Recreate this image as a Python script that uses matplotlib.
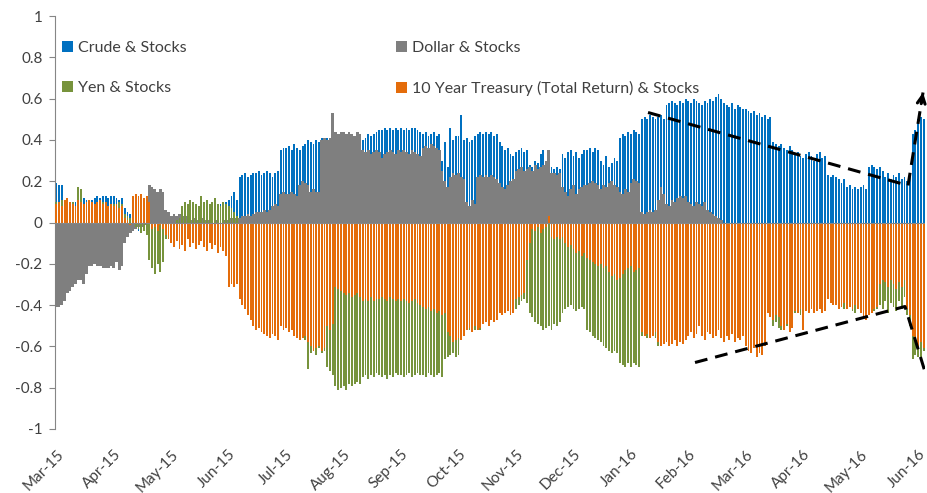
import numpy as np
import matplotlib
matplotlib.use('Agg')
import matplotlib.pyplot as plt
from matplotlib.patches import Patch

month_labels = ['Mar-15', 'Apr-15', 'May-15', 'Jun-15', 'Jul-15', 'Aug-15', 'Sep-15',
                'Oct-15', 'Nov-15', 'Dec-15', 'Jan-16', 'Feb-16', 'Mar-16', 'Apr-16',
                'May-16', 'Jun-16']
label_every = 21  # trading days between month labels

# correlation values in hundredths, one per trading day
crude = [
    19, 18, 18, 10, 11, 10, 9, 10, 11, 10, 12, 11, 10, 11, 12, 13, 12, 13, 13, 12, 13,
    13, 12, 11, 12, 7, 5, 4, 6, -2, -4, -3, -2, 1, -1, 2, 0, -2, 1, 0, 2, 1,
    -3, -5, -2, 0, 2, -4, 3, 4, 2, 6, 5, 8, 7, 9, 6, 8, 5, 7, 9, 10, 10,
    11, 13, 15, 11, 22, 23, 24, 22, 23, 24, 24, 25, 23, 24, 25, 24, 22, 24, 25, 35, 36,
    36, 37, 35, 38, 36, 35, 37, 38, 40, 39, 38, 40, 39, 41, 40, 41, 40, 42, 41, 40, 42,
    41, 42, 40, 41, 42, 40, 41, 40, 41, 43, 42, 43, 44, 45, 45, 46, 45, 46, 45, 46, 45,
    46, 45, 46, 45, 46, 46, 45, 44, 43, 44, 42, 43, 44, 42, 43, 30, 39, 27, 46, 40, 42,
    42, 52, 40, 41, 39, 40, 42, 43, 44, 43, 44, 43, 44, 42, 43, 39, 37, 35, 36, 33, 32,
    34, 35, 36, 34, 35, 28, 27, 30, 29, 33, 35, 27, 26, 27, 26, 27, 26, 33, 31, 34, 35,
    32, 34, 31, 33, 35, 35, 36, 34, 36, 35, 30, 28, 32, 27, 29, 31, 30, 41, 43, 42, 44,
    43, 45, 44, 43, 50, 51, 50, 52, 51, 50, 51, 52, 50, 57, 58, 59, 58, 57, 59, 58, 60,
    59, 58, 60, 59, 58, 57, 59, 58, 60, 59, 61, 62, 60, 58, 57, 56, 58, 55, 57, 56, 55,
    55, 54, 53, 54, 52, 53, 51, 52, 50, 51, 39, 38, 37, 38, 36, 35, 37, 35, 33, 34, 32,
    31, 33, 34, 32, 30, 33, 34, 31, 32, 23, 22, 23, 22, 21, 19, 21, 17, 18, 16, 17, 16,
    17, 18, 16, 27, 28, 27, 26, 27, 25, 22, 24, 21, 23, 22, 24, 21, 22, 20, 22, 43, 45,
    50, 51, 50,
]
dollar = [
    -41, -41, -40, -38, -34, -33, -31, -30, -28, -28, -30, -25, -21, -21, -20, -21, -21, -22, -22, -22, -21,
    -22, -19, -23, -21, -10, -7, -5, -4, -3, -2, -2, -1, -1, 18, 17, 16, 15, 16, 15, 6, 5,
    3, 4, 3, 4, 3, 4, 3, 1, 2, 1, 1, 2, 1, 1, 1, 0, 1, 1, 0, 1, 1,
    1, 2, 2, 1, 2, 3, 3, 4, 3, 4, 5, 5, 5, 6, 5, 6, 8, 9, 8, 14, 15,
    14, 14, 15, 14, 13, 18, 20, 19, 18, 15, 16, 15, 15, 40, 41, 40, 41, 53, 44, 43, 44,
    44, 43, 44, 43, 42, 44, 43, 35, 34, 35, 33, 34, 35, 34, 31, 33, 34, 35, 34, 33, 35,
    34, 35, 34, 33, 35, 34, 33, 32, 36, 37, 36, 38, 37, 36, 35, 25, 20, 17, 22, 24, 23,
    24, 22, 21, 10, 8, 11, 9, 22, 23, 22, 23, 22, 23, 22, 21, 19, 17, 16, 18, 20, 21,
    25, 26, 27, 25, 26, 27, 25, 28, 26, 27, 28, 30, 35, 24, 24, 23, 24, 17, 15, 13, 16,
    18, 14, 16, 17, 18, 18, 19, 20, 19, 18, 16, 18, 17, 19, 20, 18, 17, 15, 14, 16, 15,
    19, 21, 20, 19, 5, 4, 5, 6, 5, 6, 11, 17, 14, 9, 8, 11, 10, 12, 13, 12, 13,
    10, 9, 8, 10, 9, 8, 10, 6, 5, 4, 3, 2, 1, 0, 0, 0, 0, 0, 0, 0, 0,
    0, 0, 0, 0, 0, 0, 0, 0, 0, 0, 0, 0, 0, 0, 0, 0, 0, 0, 0, 0, 0,
    0, 0, 0, 0, 0, 0, 0, 0, 0, 0, 0, 0, 0, 0, 0, 0, 0, 0, 0, 0, 0,
    0, 0, 0, 0, 0, 0, 0, 0, 0, 0, 0, 0, 0, 0, 0, 0, 0, 0, 0, 0, 0,
    0, 0, 0,
]
yen = [
    10, 9, 11, 8, 10, 9, 10, 8, 17, 16, 9, 10, 11, 10, 9, 8, 9, 10, 9, 8, 9,
    9, 8, 10, 9, 4, 3, 2, 3, -2, -3, -5, -4, -6, -18, -22, -25, -20, -24, -19, -8, -4,
    -3, -2, 1, 2, 8, 10, 9, 11, 10, 9, 8, 13, 10, 11, 9, 10, 12, 9, 8, 10, 9,
    8, 7, 5, 3, -15, -20, -22, -25, -28, -30, -33, -35, -32, -34, -36, -38, -35, -37, -40, -42, -44,
    -45, -47, -46, -48, -50, -52, -55, -57, -71, -63, -62, -64, -61, -63, -62, -70, -72, -74, -79, -81, -80,
    -79, -81, -78, -79, -78, -77, -78, -75, -74, -76, -74, -75, -73, -74, -75, -74, -76, -74, -75, -73, -74,
    -74, -75, -74, -73, -75, -74, -73, -74, -74, -75, -73, -74, -75, -74, -73, -75, -66, -65, -64, -63, -65,
    -64, -53, -52, -51, -52, -53, -52, -50, -52, -49, -48, -50, -47, -48, -47, -44, -45, -43, -42, -43, -41,
    -42, -40, -38, -37, -39, -44, -46, -48, -49, -50, -52, -51, -50, -52, -49, -50, -48, -44, -42, -41, -40,
    -42, -43, -42, -41, -42, -52, -53, -55, -56, -57, -58, -60, -61, -62, -63, -62, -63, -68, -69, -70, -68,
    -70, -68, -69, -70, -55, -54, -56, -55, -54, -56, -60, -58, -59, -42, -40, -38, -41, -39, -40, -43, -41,
    -38, -40, -42, -39, -41, -37, -40, -43, -38, -40, -42, -39, -41, -44, -40, -42, -38, -41, -43, -40, -39,
    -42, -40, -44, -41, -43, -40, -42, -45, -41, -43, -50, -48, -51, -52, -49, -50, -51, -48, -44, -42, -45,
    -40, -42, -43, -41, -39, -42, -40, -38, -41, -37, -36, -38, -35, -37, -40, -42, -39, -41, -43, -44, -42,
    -44, -43, -45, -42, -44, -43, -42, -40, -42, -38, -44, -39, -41, -43, -38, -42, -36, -45, -50, -66, -64,
    -65, -66, -62,
]
treasury = [
    9, 10, 8, 11, 12, 10, 9, 8, 11, 10, 9, 10, 11, 10, 9, 10, 11, 9, 10, 8, 9,
    8, 9, 7, 8, 2, 1, -1, 13, 14, 13, 14, 12, 13, 10, -3, -2, -4, -1, -3, -6, -8,
    -10, -12, -9, -13, -11, -14, -8, -12, -10, -13, -11, -9, -12, -14, -10, -13, -11, -15, -12, -14, -16,
    -31, -30, -31, -30, -37, -40, -42, -45, -47, -50, -52, -51, -53, -54, -55, -56, -54, -55, -57, -50, -52,
    -51, -53, -52, -55, -56, -57, -56, -55, -58, -60, -62, -61, -60, -62, -61, -50, -52, -49, -31, -32, -33,
    -34, -35, -34, -36, -35, -34, -36, -38, -37, -38, -36, -38, -37, -37, -36, -37, -38, -36, -37, -38, -37,
    -38, -37, -38, -39, -38, -37, -39, -40, -41, -42, -41, -43, -42, -44, -43, -45, -44, -53, -55, -58, -57,
    -56, -57, -55, -52, -51, -53, -50, -52, -51, -49, -48, -50, -47, -48, -47, -44, -45, -44, -43, -45, -44,
    -37, -36, -35, -34, -18, -10, -3, -4, -2, -5, -3, -2, 3, -7, -8, -7, -8, -7, -10, -12, -11,
    -13, -15, -14, -16, -15, -17, -18, -19, -20, -21, -20, -22, -21, -24, -26, -25, -28, -27, -25, -23, -22,
    -21, -24, -23, -22, -53, -55, -54, -56, -55, -53, -58, -60, -59, -58, -60, -59, -57, -60, -58, -59, -57,
    -55, -53, -56, -54, -50, -55, -57, -53, -54, -56, -55, -52, -56, -58, -55, -57, -54, -58, -56, -57, -55,
    -60, -62, -63, -61, -65, -63, -64, -60, -44, -46, -47, -45, -46, -50, -52, -49, -53, -51, -43, -44, -42,
    -52, -43, -44, -42, -44, -43, -42, -44, -43, -37, -39, -40, -40, -42, -41, -39, -42, -41, -42, -40, -42,
    -44, -46, -47, -45, -44, -42, -41, -30, -28, -29, -31, -28, -30, -32, -29, -31, -28, -42, -45, -55, -58,
    -60, -58, -61,
]

series_names = ['Crude & Stocks', 'Dollar & Stocks', 'Yen & Stocks',
                '10 Year Treasury (Total Return) & Stocks']
colors = ['#0070C0', '#7F7F7F', '#77933C', '#E46C0A']

lens = [len(crude), len(dollar), len(yen), len(treasury)]
if len(set(lens)) != 1:
    raise ValueError(f'length mismatch {lens}')

N = len(crude)
x = np.arange(N)
c = np.array(crude) / 100.0
d = np.array(dollar) / 100.0
yv = np.array(yen) / 100.0
t = np.array(treasury) / 100.0

W, H = 927, 493
fig = plt.figure(figsize=(W / 100, H / 100), dpi=100)
ax = fig.add_axes([55 / W, (H - 429) / H, 870 / W, 413 / H])

bw = 0.68
ax.bar(x, c, width=bw, color=colors[0], linewidth=0, zorder=2)
ax.bar(x, d, width=1.0, color=colors[1], linewidth=0, zorder=3)
ax.bar(x, yv, width=bw, color=colors[2], linewidth=0, zorder=4)
ax.bar(x, t, width=bw, color=colors[3], linewidth=0, zorder=5)
ax.axhline(0, color='#868686', lw=0.8, zorder=5.5)

ax.set_xlim(-0.5, N - 0.5)
ax.set_ylim(-1, 1)

font = 'Lato'
txtc = '#404040'
yt = np.round(np.arange(-1, 1.001, 0.2), 1)
ax.set_yticks(yt)
ax.set_yticklabels([('0' if abs(v) < 1e-9 else f'{v:g}') for v in yt],
                   fontsize=11, color=txtc, family=font)
ax.tick_params(axis='y', length=4, width=0.8, color='#868686', pad=5)

xt = np.arange(0, N, label_every)[:len(month_labels)]
ax.set_xticks(xt)
ax.set_xticklabels(month_labels, rotation=45, ha='right', rotation_mode='anchor',
                   fontsize=11, color=txtc, family=font)
ax.tick_params(axis='x', length=0, pad=13)

for s in ['top', 'right', 'bottom']:
    ax.spines[s].set_visible(False)
ax.spines['left'].set_color('#868686')
ax.spines['left'].set_linewidth(0.8)


def px(xp, yp):
    return ((xp - 55) / 2.7358 - 0.5, (223 - yp) / 206.5)


# dashed trend annotations
dash = (0, (4.2, 2.6))
p1, p2, p3 = px(648, 113), px(908, 186), px(923, 93)
ax.plot([p1[0], p2[0], p3[0]], [p1[1], p2[1], p3[1]], color='black', lw=2.2,
        ls=dash, zorder=7, clip_on=False, dash_capstyle='butt')
q0 = (p3[0] - (p3[0] - p2[0]) * 0.12, p3[1] - (p3[1] - p2[1]) * 0.12)
ax.annotate('', xy=p3, xytext=q0,
            arrowprops=dict(arrowstyle='->', lw=2.2, color='black', mutation_scale=14,
                            shrinkA=0, shrinkB=0),
            annotation_clip=False, zorder=7)
l1, l2, l3 = px(695, 363), px(905, 307), px(935, 405)
ax.plot([l1[0], l2[0], l3[0]], [l1[1], l2[1], l3[1]], color='black', lw=2.2,
        ls=dash, zorder=7, clip_on=True, dash_capstyle='butt')

# legends (two columns)
handles = [Patch(facecolor=col, edgecolor='none') for col in colors]
leg_kw = dict(frameon=False, borderpad=0, borderaxespad=0, handlelength=0.7,
              handleheight=0.7, handletextpad=0.3, labelspacing=1.6,
              prop={'family': font, 'size': 11.5}, labelcolor=txtc)
leg1 = fig.legend([handles[0], handles[2]], [series_names[0], series_names[2]],
                  loc='upper left', bbox_to_anchor=(62 / W, 1 - 41 / H), **leg_kw)
leg2 = fig.legend([handles[1], handles[3]], [series_names[1], series_names[3]],
                  loc='upper left', bbox_to_anchor=(396 / W, 1 - 41 / H), **leg_kw)

fig.savefig('out.png', dpi=100)
